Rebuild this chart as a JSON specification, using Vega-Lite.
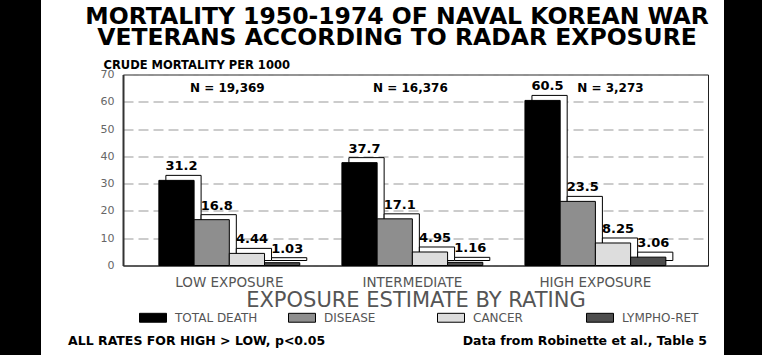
{
  "$schema": "https://vega.github.io/schema/vega-lite/v6.json",
  "background": "white",
  "padding": 0,
  "spacing": 26,
  "center": true,
  "resolve": {"scale": {"fill": "independent"}, "legend": {"fill": "independent"}},
  "config": {
    "font": "DejaVu Sans",
    "view": {"stroke": "#222", "strokeWidth": 1}
  },
  "datasets": {
    "rates": [
      {"exposure": "LOW EXPOSURE", "series": "TOTAL DEATH", "rate": 31.2, "n": "N = 19,369"},
      {"exposure": "LOW EXPOSURE", "series": "DISEASE", "rate": 16.8},
      {"exposure": "LOW EXPOSURE", "series": "CANCER", "rate": 4.44},
      {"exposure": "LOW EXPOSURE", "series": "LYMPHO-RET", "rate": 1.03},
      {"exposure": "INTERMEDIATE", "series": "TOTAL DEATH", "rate": 37.7, "n": "N = 16,376"},
      {"exposure": "INTERMEDIATE", "series": "DISEASE", "rate": 17.1},
      {"exposure": "INTERMEDIATE", "series": "CANCER", "rate": 4.95},
      {"exposure": "INTERMEDIATE", "series": "LYMPHO-RET", "rate": 1.16},
      {"exposure": "HIGH EXPOSURE", "series": "TOTAL DEATH", "rate": 60.5, "n": "N = 3,273"},
      {"exposure": "HIGH EXPOSURE", "series": "DISEASE", "rate": 23.5},
      {"exposure": "HIGH EXPOSURE", "series": "CANCER", "rate": 8.25},
      {"exposure": "HIGH EXPOSURE", "series": "LYMPHO-RET", "rate": 3.06}
    ]
  },
  "hconcat": [
    {
      "width": 41, "height": 422,
      "view": {"fill": "black", "stroke": null},
      "data": {"values": [{}]},
      "mark": {"type": "rect", "color": "black"},
      "encoding": {}
    },
    {
      "spacing": 15,
      "center": true,
      "resolve": {"scale": {"fill": "independent"}, "legend": {"fill": "independent"}},
      "hconcat": [
        {
          "title": {
            "text": ["MORTALITY 1950-1974 OF NAVAL KOREAN WAR", "VETERANS ACCORDING TO RADAR EXPOSURE"],
            "font": "DejaVu Sans", "fontSize": 23.5, "fontWeight": "bold", "color": "black",
            "lineHeight": 21, "anchor": "middle", "dx": 9, "offset": 10
          },
          "resolve": {"scale": {"fill": "independent"}, "legend": {"fill": "independent"}},
          "vconcat": [
            {
              "width": 585,
              "height": 191,
              "title": {
                "text": "ALL RATES FOR HIGH > LOW, p<0.05\u2003\u2003\u2003\u2003\u2003\u2003\u2003\u2003\u2003\u2003\u2003Data from Robinette et al., Table 5",
                "orient": "bottom", "anchor": "middle", "dx": -28,
                "font": "DejaVu Sans", "fontSize": 12.5, "fontWeight": "bold", "color": "black", "offset": 10
              },
              "data": {"name": "rates"},
              "resolve": {"scale": {"xOffset": "independent"}},
              "encoding": {
                "x": {
                  "field": "exposure", "type": "nominal",
                  "sort": ["LOW EXPOSURE", "INTERMEDIATE", "HIGH EXPOSURE"],
                  "scale": {"paddingInner": 0.23, "paddingOuter": 0.213, "align": 0.46},
                  "title": "EXPOSURE ESTIMATE BY RATING",
                  "axis": {
                    "labelAngle": 0, "ticks": false, "domain": true, "domainColor": "#222",
                    "labelFontSize": 13.5, "labelColor": "#555", "labelPadding": 10,
                    "titleFontSize": 21, "titleFontWeight": "normal", "titleColor": "#555", "titlePadding": 0,
                    "grid": false
                  }
                },
                "y": {
                  "field": "rate", "type": "quantitative",
                  "scale": {"domain": [0, 70], "nice": false},
                  "title": "CRUDE MORTALITY PER 1000",
                  "axis": {
                    "values": [0, 10, 20, 30, 40, 50, 60, 70],
                    "ticks": false, "labelPadding": 9, "labelFontSize": 11, "labelColor": "#666",
                    "grid": true, "gridDash": [10, 5], "gridColor": "#999",
                    "domainColor": "#333", "domainWidth": 2,
                    "titleAngle": 0, "titleAlign": "left", "titleBaseline": "alphabetic",
                    "titleX": -20, "titleY": -6, "titleFontSize": 11.5, "titleFontWeight": "bold", "titleColor": "black"
                  }
                }
              },
              "layer": [
                {
                  "mark": {"type": "bar", "fill": "white", "stroke": "black", "strokeWidth": 1, "yOffset": -5, "y2Offset": -5},
                  "encoding": {
                    "xOffset": {"field": "series", "type": "nominal", "sort": ["TOTAL DEATH", "DISEASE", "CANCER", "LYMPHO-RET"],
                                "scale": {"range": [7, 147.9]}}
                  }
                },
                {
                  "mark": {"type": "bar", "stroke": "black", "strokeWidth": 1},
                  "encoding": {
                    "xOffset": {"field": "series", "type": "nominal", "sort": ["TOTAL DEATH", "DISEASE", "CANCER", "LYMPHO-RET"],
                                "scale": {"range": [0, 140.9]}},
                    "fill": {
                      "field": "series", "type": "nominal",
                      "scale": {"domain": ["TOTAL DEATH", "DISEASE", "CANCER", "LYMPHO-RET"],
                                "range": ["#000000", "#8e8e8e", "#dddddd", "#4d4d4d"]},
                      "legend": {
                        "title": null, "orient": "none", "legendX": 16, "legendY": 229,
                        "direction": "horizontal", "columns": 4, "gridAlign": "all", "columnPadding": 28,
                        "symbolType": "M-1,-0.33H1V0.33H-1Z", "symbolSize": 729,
                        "symbolStrokeColor": "black", "symbolStrokeWidth": 1,
                        "labelFontSize": 12, "labelColor": "#555", "labelOffset": 8, "padding": 0
                      }
                    }
                  }
                },
                {
                  "mark": {"type": "text", "fontWeight": "bold", "fontSize": 13, "dx": 5, "dy": -10, "baseline": "alphabetic", "color": "black"},
                  "encoding": {
                    "xOffset": {"field": "series", "type": "nominal", "sort": ["TOTAL DEATH", "DISEASE", "CANCER", "LYMPHO-RET"],
                                "scale": {"range": [0, 140.9]}},
                    "text": {"field": "rate", "type": "nominal"}
                  }
                },
                {
                  "transform": [{"filter": "datum.series == 'TOTAL DEATH' && datum.exposure != 'HIGH EXPOSURE'"}],
                  "mark": {"type": "text", "fontWeight": "bold", "fontSize": 12, "dx": -2, "baseline": "middle", "color": "black"},
                  "encoding": {"y": {"datum": 65}, "text": {"field": "n", "type": "nominal"}}
                },
                {
                  "transform": [{"filter": "datum.series == 'TOTAL DEATH' && datum.exposure == 'HIGH EXPOSURE'"}],
                  "mark": {"type": "text", "fontWeight": "bold", "fontSize": 12, "dx": 15, "baseline": "middle", "color": "black"},
                  "encoding": {"y": {"datum": 65}, "text": {"field": "n", "type": "nominal"}}
                }
              ]
            }
          ]
        },
        {
          "width": 60, "height": 422,
          "view": {"fill": "black", "stroke": null},
          "data": {"values": [{}]},
          "mark": {"type": "rect", "color": "black"},
          "encoding": {}
        }
      ]
    }
  ]
}
